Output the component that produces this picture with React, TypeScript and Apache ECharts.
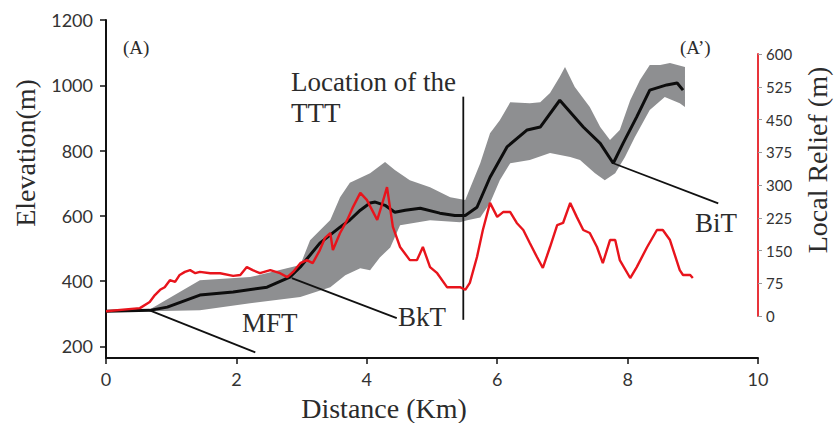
import React, { useEffect, useRef } from "react";
import * as echarts from "echarts";

// Distance (km) / elevation (m) of the mean profile
const elevationLine: [number, number][] = [
  [0, 307], [0.67, 310], [0.94, 320], [1.44, 357], [1.95, 366], [2.47, 381], [2.82, 412],
  [2.98, 443], [3.28, 516], [3.59, 565], [3.74, 587], [3.9, 617], [4.05, 639], [4.13, 642],
  [4.28, 632], [4.43, 611], [4.59, 617], [4.82, 623], [5.12, 608], [5.35, 601], [5.51, 601],
  [5.69, 626], [5.89, 718], [6.15, 811], [6.46, 863], [6.66, 872], [6.96, 954], [7.32, 872],
  [7.58, 822], [7.78, 761], [7.93, 822], [8.14, 903], [8.34, 985], [8.6, 1001], [8.76, 1007],
  [8.85, 985],
];

// Swath envelope: maximum and minimum elevation
const bandUpper: [number, number][] = [
  [0, 307], [0.67, 313], [1.44, 402], [2.21, 412], [2.98, 449], [3.13, 525], [3.44, 587],
  [3.59, 657], [3.74, 701], [4.05, 730], [4.28, 765], [4.43, 740], [4.66, 709], [4.97, 687],
  [5.28, 657], [5.51, 648], [5.74, 761], [5.89, 853], [6.04, 893], [6.2, 948], [6.5, 945],
  [6.66, 948], [6.81, 976], [6.96, 1026], [7.04, 1056], [7.19, 995], [7.42, 933], [7.58, 872],
  [7.73, 832], [7.88, 863], [8.04, 954], [8.19, 1016], [8.34, 1062], [8.5, 1062], [8.65, 1068],
  [8.88, 1056],
];
const bandLower: [number, number][] = [
  [0, 307], [0.67, 307], [1.44, 310], [2.21, 332], [2.98, 351], [3.44, 381], [3.67, 418],
  [3.9, 439], [4.05, 433], [4.2, 472], [4.36, 503], [4.51, 571], [4.97, 586], [5.43, 580],
  [5.54, 586], [5.74, 595], [5.89, 639], [6.04, 709], [6.2, 761], [6.5, 771], [6.81, 792],
  [7.12, 780], [7.27, 771], [7.5, 730], [7.65, 709], [7.81, 730], [7.96, 780], [8.11, 841],
  [8.34, 924], [8.57, 964], [8.8, 945], [8.88, 933],
];

// Local relief (m)
const reliefLine: [number, number][] = [
  [0, 11], [0.52, 18], [0.67, 32], [0.75, 48], [0.83, 60], [0.9, 66], [0.98, 82], [1.06, 78],
  [1.13, 94], [1.21, 101], [1.29, 105], [1.37, 98], [1.44, 101], [1.6, 98], [1.75, 98],
  [1.95, 92], [2.06, 94], [2.16, 112], [2.25, 105], [2.36, 98], [2.52, 105], [2.67, 98],
  [2.78, 89], [2.87, 101], [2.98, 121], [3.08, 128], [3.17, 121], [3.28, 151], [3.36, 179],
  [3.44, 190], [3.48, 151], [3.59, 190], [3.7, 220], [3.79, 250], [3.9, 282], [4.0, 266],
  [4.08, 243], [4.16, 220], [4.23, 254], [4.31, 295], [4.4, 204], [4.51, 158], [4.66, 128],
  [4.77, 128], [4.86, 158], [4.97, 112], [5.08, 98], [5.23, 66], [5.43, 66], [5.51, 60],
  [5.58, 76], [5.69, 135], [5.78, 197], [5.89, 259], [6.0, 227], [6.09, 238], [6.2, 238],
  [6.3, 213], [6.4, 197], [6.5, 167], [6.61, 135], [6.7, 110], [6.81, 158], [6.92, 208],
  [7.01, 213], [7.12, 259], [7.22, 227], [7.32, 197], [7.42, 190], [7.53, 158], [7.62, 121],
  [7.73, 174], [7.81, 174], [7.88, 128], [8.04, 87], [8.14, 112], [8.3, 158], [8.45, 197],
  [8.54, 197], [8.65, 174], [8.8, 105], [8.85, 94], [8.96, 94], [9.0, 87],
];

// Leader lines of annotations (km, elevation)
const mftLine: [number, number][] = [[0.67, 310], [2.29, 181]];
const bktLine: [number, number][] = [[2.85, 409], [4.46, 286]];
const bitLine: [number, number][] = [[7.78, 761], [9.39, 638]];
const tttLine: [number, number][] = [[5.48, 965], [5.48, 281]];

const elevationTicks = [200, 400, 600, 800, 1000, 1200];
const distanceTicks = [0, 2, 4, 6, 8, 10];
const reliefTicks = [0, 75, 150, 225, 300, 375, 450, 525, 600];

const SERIF = '"Liberation Serif", "Times New Roman", serif';
const SANS = 'Lato, "Open Sans", sans-serif';
const TXT = "#2b2b2b";

const plain = (v: number) => String(v);

function leader(data: [number, number][]) {
  return {
    type: "line",
    xAxisIndex: 0,
    yAxisIndex: 0,
    data,
    symbol: "none",
    silent: true,
    z: 4,
    lineStyle: { color: "#111", width: 1.8 },
  };
}

function label(text: string, x: number, y: number, size: number, extra: any = {}) {
  return {
    type: "text",
    x,
    y,
    silent: true,
    ...extra,
    style: {
      text,
      font: `${size}px ${SERIF}`,
      fill: TXT,
      textAlign: extra.align || "left",
      textVerticalAlign: "middle",
    },
  };
}

export default function App() {
  const ref = useRef<HTMLDivElement>(null);
  useEffect(() => {
    if (!ref.current) return;
    const chart = echarts.init(ref.current, undefined, { renderer: "svg" });
    const option: any = {
      animation: false,
      grid: [
        { left: 106, right: 78, top: 20, bottom: 65 },
        { left: 106, right: 78, top: 54, bottom: 107 },
      ],
      xAxis: [
        {
          type: "value",
          gridIndex: 0,
          min: 0,
          max: 10,
          interval: 2,
          axisLine: { onZero: false, lineStyle: { color: "#111", width: 2 } },
          axisTick: { show: true, length: 6, customValues: distanceTicks, lineStyle: { color: "#111", width: 1.5 } },
          axisLabel: { margin: 12, fontFamily: SANS, fontSize: 18, color: "#333", customValues: distanceTicks, formatter: plain },
          splitLine: { show: false },
        },
        { type: "value", gridIndex: 1, min: 0, max: 10, show: false },
      ],
      yAxis: [
        {
          type: "value",
          gridIndex: 0,
          min: 164,
          max: 1200,
          axisLine: { show: true, onZero: false, lineStyle: { color: "#111", width: 2 } },
          axisTick: { show: true, length: 6, customValues: elevationTicks, lineStyle: { color: "#111", width: 1.5 } },
          axisLabel: { margin: 13, fontFamily: SANS, fontSize: 18, color: "#333", customValues: elevationTicks, formatter: plain },
          splitLine: { show: false },
        },
        {
          type: "value",
          gridIndex: 1,
          position: "right",
          min: 0,
          max: 600,
          interval: 75,
          axisLine: { show: true, onZero: false, lineStyle: { color: "#e8343a", width: 2 } },
          axisTick: { show: true, length: 4, customValues: reliefTicks, lineStyle: { color: "#999", width: 1 } },
          axisLabel: { margin: 8, fontFamily: SANS, fontSize: 15, color: "#333", customValues: reliefTicks, formatter: plain },
          splitLine: { show: false },
        },
      ],
      series: [
        {
          type: "custom",
          xAxisIndex: 0,
          yAxisIndex: 0,
          silent: true,
          z: 1,
          data: [[0, 300]],
          renderItem: (_params: any, api: any) => {
            const pts = [
              ...bandUpper.map((p) => api.coord(p)),
              ...bandLower.slice().reverse().map((p) => api.coord(p)),
            ];
            return { type: "polygon", shape: { points: pts }, style: { fill: "#8e8f91", stroke: "none" } };
          },
        },
        {
          type: "line",
          xAxisIndex: 0,
          yAxisIndex: 0,
          data: elevationLine,
          symbol: "none",
          z: 3,
          lineStyle: { color: "#0d0d0d", width: 3 },
        },
        {
          type: "line",
          xAxisIndex: 1,
          yAxisIndex: 1,
          data: reliefLine,
          symbol: "none",
          z: 5,
          lineStyle: { color: "#e8141c", width: 2.4 },
        },
        leader(mftLine),
        leader(bktLine),
        leader(bitLine),
        leader(tttLine),
      ],
      graphic: [
        label("Elevation(m)", 25, 153, 28, { rotation: Math.PI / 2, align: "center" }),
        label("Distance (Km)", 384, 408, 28, { align: "center" }),
        label("Local Relief (m)", 817, 160, 28, { rotation: Math.PI / 2, align: "center" }),
        label("(A)", 123, 47, 19),
        label("(A\u2019)", 680, 47, 19),
        label("Location of the", 291, 82, 27),
        label("TTT", 291, 113, 27),
        label("MFT", 242, 323, 27),
        label("BkT", 398, 317, 27),
        label("BiT", 695, 223, 27),
      ],
    };
    chart.setOption(option);
    return () => chart.dispose();
  }, []);
  return <div ref={ref} style={{ width: 836, height: 423, position: "absolute", left: 0, top: 0 }} />;
}
